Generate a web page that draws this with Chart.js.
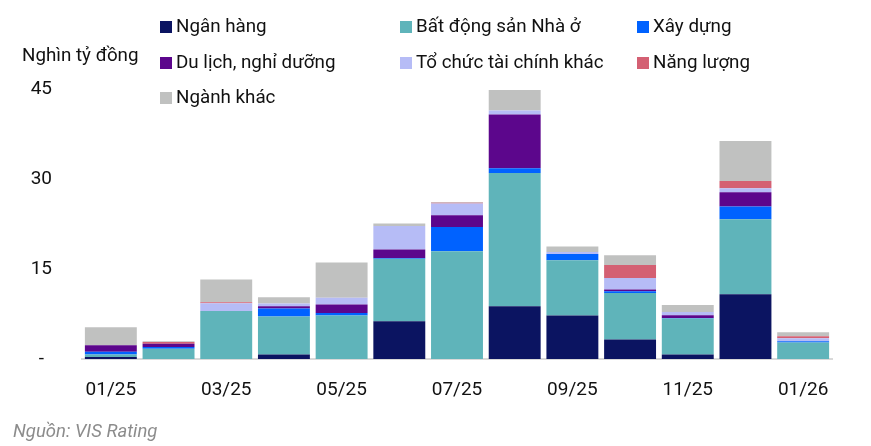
<!DOCTYPE html>
<html>
<head>
<meta charset="utf-8">
<script src="https://cdn.jsdelivr.net/npm/chart.js@4.4.1/dist/chart.umd.min.js"></script>
<style>
  html, body { margin: 0; padding: 0; background: #fff; }
  #wrap { position: relative; width: 871px; height: 446px; font-family: Roboto, "Noto Sans", sans-serif; color: #111; }
  #chart { position: absolute; left: 0; top: 0; }
  .unit { position: absolute; left: 22px; top: 44px; font-size: 18.8px; }
  .src { position: absolute; left: 13px; top: 420px; font-size: 18.5px; font-style: italic; color: #8c8c8c; }
  .leg { position: absolute; font-size: 18.8px; white-space: nowrap; line-height: 22px; }
  .leg i { display: inline-block; width: 12px; height: 12px; margin-right: 4px; vertical-align: -1px; }
</style>
</head>
<body>
<div id="wrap">
  <canvas id="chart" width="871" height="446"></canvas>
  <div class="unit">Nghìn tỷ đồng</div>
  <div class="src">Nguồn: VIS Rating</div>
</div>
<script>
// thang 01/25 -> 01/26
var thang = ['01/25', '02/25', '03/25', '04/25', '05/25', '06/25', '07/25', '08/25', '09/25', '10/25', '11/25', '12/25', '01/26'];
var yTicks = [0, 15, 30, 45];

var nganHang   = [0.35, 0,    0,    0.75, 0,    6.3,  0,     8.8,  7.25, 3.25, 0.75, 10.8, 0];
var batDongSan = [0.4,  1.7,  8.0,  6.35, 7.25, 10.4, 17.95, 22.2, 9.2,  7.75, 6.0,  12.5, 2.75];
var xayDung    = [0.45, 0.3,  0,    1.3,  0.4,  0.15, 4.05,  0.8,  1.05, 0.3,  0.1,  2.1,  0.2];
var duLich     = [1.1,  0.55, 0,    0.4,  1.45, 1.4,  1.95,  8.95, 0,    0.3,  0.45, 2.4,  0];
var toChucTC   = [0,    0,    1.3,  0.45, 1.1,  3.9,  1.95,  0.65, 0.35, 1.9,  0.55, 0.65, 0.5];
var nangLuong  = [0,    0.3,  0.15, 0,    0,    0,    0.15,  0,    0,    2.15, 0,    1.2,  0.35];
var nganhKhac  = [3.0,  0.1,  3.8,  1.05, 5.9,  0.45, 0.1,   3.45, 0.9,  1.65, 1.15, 6.7,  0.65];

var nhom = [
    { ten: 'Ngân hàng', data: nganHang, mau: '#0b1461' },
    { ten: 'Bất động sản Nhà ở', data: batDongSan, mau: '#5fb4ba' },
    { ten: 'Xây dựng', data: xayDung, mau: '#0062ff' },
    { ten: 'Du lịch, nghỉ dưỡng', data: duLich, mau: '#5c068c' },
    { ten: 'Tổ chức tài chính khác', data: toChucTC, mau: '#b6bcf6' },
    { ten: 'Năng lượng', data: nangLuong, mau: '#d46073' },
    { ten: 'Ngành khác', data: nganhKhac, mau: '#c0c1c0' }
];

// chu thich dang luoi 3 cot
var cotX = [160, 400, 637];
var hangY = [15, 51, 86];
nhom.forEach(function (n, i) {
    var d = document.createElement('div');
    d.className = 'leg';
    d.style.left = cotX[i % 3] + 'px';
    d.style.top = hangY[Math.floor(i / 3)] + 'px';
    d.innerHTML = '<i style="background:' + n.mau + '"></i>' + n.ten;
    document.getElementById('wrap').appendChild(d);
});

var ctx = document.getElementById('chart').getContext('2d');
var myChart = new Chart(ctx, {
    type: 'bar',
    data: {
        labels: thang,
        datasets: nhom.map(function (n) {
            return {
                label: n.ten,
                data: n.data,
                backgroundColor: n.mau,
                borderWidth: 0,
                barPercentage: 0.9,
                categoryPercentage: 1.0
            };
        })
    },
    options: {
        responsive: false,
        animation: false,
        devicePixelRatio: 1,
        layout: { padding: { left: 0, right: 39, top: 89, bottom: 0 } },
        plugins: { legend: { display: false }, tooltip: { enabled: false } },
        scales: {
            x: {
                stacked: true,
                grid: { display: false },
                border: { display: true, color: '#d9d9d9', width: 2 },
                ticks: {
                    color: '#111',
                    font: { family: 'Roboto', size: 19 },
                    padding: 12,
                    maxRotation: 0,
                    autoSkip: false,
                    callback: function (v, i) { return i % 2 === 0 ? thang[i] : ''; }
                },
                afterFit: function (s) { s.height = 87; }
            },
            y: {
                stacked: true,
                min: 0,
                max: 45,
                grid: { display: false },
                border: { display: false },
                afterBuildTicks: function (s) { s.ticks = yTicks.map(function (v) { return { value: v }; }); },
                ticks: {
                    color: '#111',
                    font: { family: 'Roboto', size: 19 },
                    crossAlign: 'center',
                    padding: 22,
                    callback: function (v) { return v === 0 ? '-' : v; }
                },
                afterFit: function (s) { s.width = 82; }
            }
        }
    }
});
</script>
</body>
</html>
